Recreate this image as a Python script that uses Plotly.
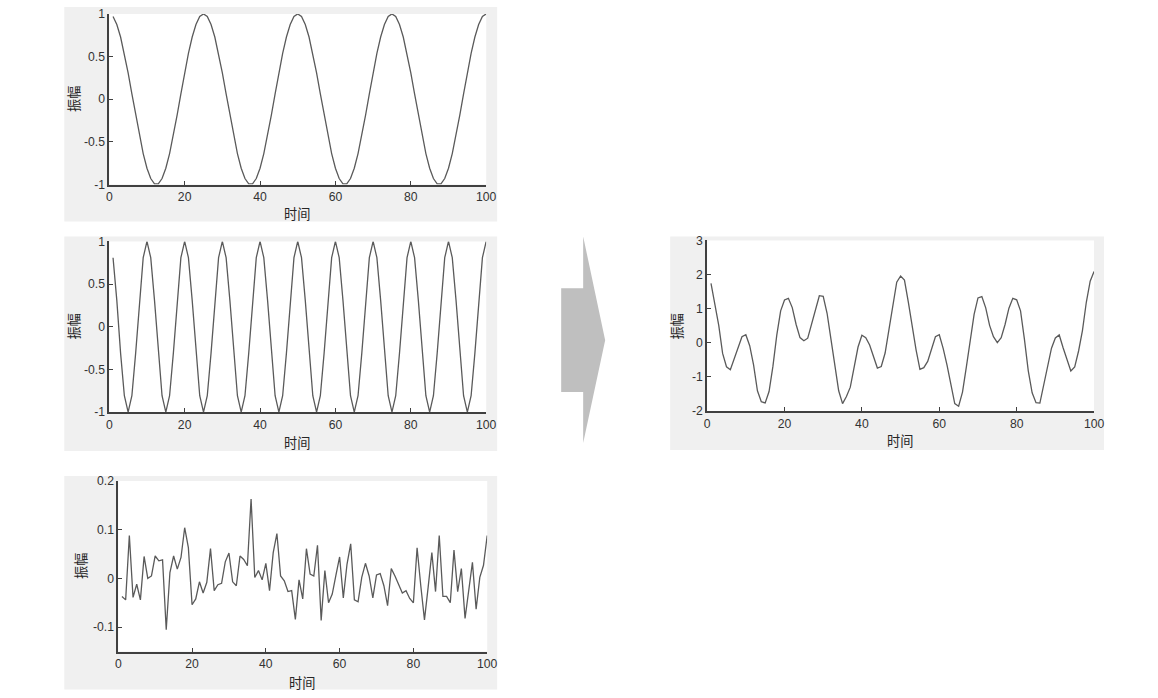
import plotly.graph_objects as go

# ---------------- data ----------------
t = list(range(1, 101))

sig_low = [0.969, 0.876, 0.729, 0.536, 0.309, 0.063, -0.187, -0.426, -0.637, -0.809,
           -0.930, -0.992, -0.992, -0.930, -0.809, -0.637, -0.426, -0.187, 0.063, 0.309,
           0.536, 0.729, 0.876, 0.969, 1.000, 0.969, 0.876, 0.729, 0.536, 0.309,
           0.063, -0.187, -0.426, -0.637, -0.809, -0.930, -0.992, -0.992, -0.930, -0.809,
           -0.637, -0.426, -0.187, 0.063, 0.309, 0.536, 0.729, 0.876, 0.969, 1.000,
           0.969, 0.876, 0.729, 0.536, 0.309, 0.063, -0.187, -0.426, -0.637, -0.809,
           -0.930, -0.992, -0.992, -0.930, -0.809, -0.637, -0.426, -0.187, 0.063, 0.309,
           0.536, 0.729, 0.876, 0.969, 1.000, 0.969, 0.876, 0.729, 0.536, 0.309,
           0.063, -0.187, -0.426, -0.637, -0.809, -0.930, -0.992, -0.992, -0.930, -0.809,
           -0.637, -0.426, -0.187, 0.063, 0.309, 0.536, 0.729, 0.876, 0.969, 1.000]

sig_high = [0.809, 0.309, -0.309, -0.809, -1.000, -0.809, -0.309, 0.309, 0.809, 1.000,
            0.809, 0.309, -0.309, -0.809, -1.000, -0.809, -0.309, 0.309, 0.809, 1.000,
            0.809, 0.309, -0.309, -0.809, -1.000, -0.809, -0.309, 0.309, 0.809, 1.000,
            0.809, 0.309, -0.309, -0.809, -1.000, -0.809, -0.309, 0.309, 0.809, 1.000,
            0.809, 0.309, -0.309, -0.809, -1.000, -0.809, -0.309, 0.309, 0.809, 1.000,
            0.809, 0.309, -0.309, -0.809, -1.000, -0.809, -0.309, 0.309, 0.809, 1.000,
            0.809, 0.309, -0.309, -0.809, -1.000, -0.809, -0.309, 0.309, 0.809, 1.000,
            0.809, 0.309, -0.309, -0.809, -1.000, -0.809, -0.309, 0.309, 0.809, 1.000,
            0.809, 0.309, -0.309, -0.809, -1.000, -0.809, -0.309, 0.309, 0.809, 1.000,
            0.809, 0.309, -0.309, -0.809, -1.000, -0.809, -0.309, 0.309, 0.809, 1.000]

noise = [-0.037, -0.044, 0.088, -0.039, -0.012, -0.044, 0.045, 0.000, 0.005, 0.046,
         0.036, 0.038, -0.105, 0.012, 0.046, 0.019, 0.043, 0.104, 0.063, -0.054,
         -0.042, -0.007, -0.030, -0.008, 0.061, -0.025, -0.013, -0.010, 0.034, 0.052,
         -0.007, -0.015, 0.046, 0.039, 0.026, 0.163, 0.002, 0.016, -0.003, 0.031,
         -0.025, 0.053, 0.092, 0.005, -0.005, -0.027, -0.025, -0.084, -0.003, -0.042,
         0.061, 0.009, 0.005, 0.068, -0.086, 0.016, -0.050, -0.032, 0.007, 0.044,
         -0.040, 0.029, 0.071, -0.044, -0.048, 0.002, 0.031, 0.005, -0.040, 0.007,
         0.010, -0.015, -0.056, 0.020, 0.005, -0.012, -0.030, -0.025, -0.041, -0.050,
         0.063, -0.015, -0.085, -0.018, 0.053, -0.027, 0.088, -0.037, -0.037, -0.050,
         0.058, -0.027, 0.020, -0.082, -0.018, 0.033, -0.063, 0.002, 0.027, 0.088]

combined = [1.741, 1.141, 0.508, -0.312, -0.703, -0.790, -0.451, -0.117, 0.177, 0.237,
            -0.085, -0.645, -1.406, -1.727, -1.763, -1.427, -0.692, 0.226, 0.935, 1.255,
            1.303, 1.031, 0.537, 0.152, 0.061, 0.135, 0.554, 1.028, 1.379, 1.361,
            0.865, 0.107, -0.689, -1.407, -1.783, -1.576, -1.299, -0.667, -0.124, 0.222,
            0.147, -0.064, -0.404, -0.741, -0.696, -0.300, 0.395, 1.101, 1.775, 1.958,
            1.839, 1.194, 0.425, -0.205, -0.777, -0.730, -0.546, -0.149, 0.179, 0.235,
            -0.161, -0.654, -1.230, -1.783, -1.857, -1.444, -0.704, 0.127, 0.832, 1.316,
            1.355, 1.023, 0.511, 0.180, 0.005, 0.148, 0.537, 1.013, 1.304, 1.259,
            0.935, 0.107, -0.820, -1.464, -1.756, -1.766, -1.213, -0.720, -0.158, 0.141,
            0.230, -0.144, -0.476, -0.828, -0.709, -0.240, 0.357, 1.187, 1.805, 2.088]

x_ticks = [0, 20, 40, 60, 80, 100]
x_ticktext = ["0", "20", "40", "60", "80", "100"]
y1_ticks = [-1, -0.5, 0, 0.5, 1]
y1_ticktext = ["-1", "-0.5", "0", "0.5", "1"]
y3_ticks = [-0.1, 0, 0.1, 0.2]
y3_ticktext = ["-0.1", "0", "0.1", "0.2"]
y4_ticks = [-2, -1, 0, 1, 2, 3]
y4_ticktext = ["-2", "-1", "0", "1", "2", "3"]

x_label = "时间"
y_label = "振幅"

# ---------------- layout helpers ----------------
W, H = 1158, 698
SX, BX, SY, BY = 0.989, 2.7, 0.982, 6.1
def px(x):
    return min(1.0, max(0.0, ((x - BX) / SX) / W))
def py(y):
    return min(1.0, max(0.0, 1 - ((y - BY) / SY) / H))

LINE = "#5a5a5a"
AXC = "#404040"
TICKFONT = dict(family="Liberation Sans, Arial, sans-serif", size=12.2, color="#333333")
CJKFONT = dict(family="Noto Sans CJK SC, sans-serif", size=13.2, color="#262626")

panels = [
    dict(plot=(109, 486, 13, 184), gray=(64, 497, 6, 221), yr=[-1, 1],
         yt=(y1_ticks, y1_ticktext), y=sig_low, ylab=(73, 98), xlab=(297, 213)),
    dict(plot=(109, 486, 241, 412), gray=(64, 497, 236, 451), yr=[-1, 1],
         yt=(y1_ticks, y1_ticktext), y=sig_high, ylab=(73, 326), xlab=(297, 443)),
    dict(plot=(118, 487, 481, 652), gray=(64, 497, 476, 690), yr=[-0.15, 0.2],
         yt=(y3_ticks, y3_ticktext), y=noise, ylab=(80, 566), xlab=(302, 683)),
    dict(plot=(707, 1094, 240, 411), gray=(670, 1104, 236, 450), yr=[-2, 3],
         yt=(y4_ticks, y4_ticktext), y=combined, ylab=(676, 326), xlab=(900, 441)),
]

fig = go.Figure()
shapes = []
annotations = []
layout_axes = {}

for i, p in enumerate(panels, start=1):
    sfx = "" if i == 1 else str(i)
    l, r, tp, b = p["plot"]
    gl, gr, gt, gb = p["gray"]
    fig.add_trace(go.Scatter(x=t, y=p["y"], mode="lines",
                             line=dict(color=LINE, width=1.3),
                             xaxis="x" + sfx, yaxis="y" + sfx,
                             showlegend=False, hoverinfo="skip"))
    shapes.append(dict(type="rect", xref="paper", yref="paper", layer="below",
                       x0=px(gl), x1=px(gr), y0=py(gb), y1=py(gt),
                       fillcolor="#f0f0f0", line=dict(width=0)))
    shapes.append(dict(type="rect", xref="paper", yref="paper", layer="below",
                       x0=px(l), x1=px(r), y0=py(b), y1=py(tp),
                       fillcolor="#ffffff", line=dict(width=0)))
    layout_axes["xaxis" + sfx] = dict(
        domain=[px(l), px(r)], range=[0, 100], anchor="y" + sfx,
        tickmode="array", tickvals=x_ticks, ticktext=x_ticktext,
        ticks="inside", ticklen=4, tickwidth=1, tickcolor=AXC,
        showline=True, linecolor=AXC, linewidth=1.7, showgrid=False,
        zeroline=False, tickfont=TICKFONT, fixedrange=True)
    layout_axes["yaxis" + sfx] = dict(
        domain=[py(b), py(tp)], range=p["yr"], anchor="x" + sfx,
        tickmode="array", tickvals=p["yt"][0], ticktext=p["yt"][1],
        ticks="inside", ticklen=4, tickwidth=1, tickcolor=AXC,
        showline=True, linecolor=AXC, linewidth=1.7, showgrid=False,
        zeroline=False, tickfont=TICKFONT, fixedrange=True)
    annotations.append(dict(text=y_label, xref="paper", yref="paper",
                            x=px(p["ylab"][0]), y=py(p["ylab"][1]),
                            xanchor="center", yanchor="middle", textangle=-90,
                            showarrow=False, font=CJKFONT))
    annotations.append(dict(text=x_label, xref="paper", yref="paper",
                            x=px(p["xlab"][0]), y=py(p["xlab"][1]),
                            xanchor="center", yanchor="middle",
                            showarrow=False, font=CJKFONT))

# arrow between the inputs and the result
arrow_pts = [(561, 288), (583, 288), (583, 236), (605, 340), (583, 443), (583, 392), (561, 392)]
path = "M " + " L ".join(f"{px(x):.5f},{py(y):.5f}" for x, y in arrow_pts) + " Z"
shapes.append(dict(type="path", xref="paper", yref="paper", path=path, layer="below",
                   fillcolor="#bfbfbf", line=dict(width=0)))

fig.update_layout(
    width=W, height=H, autosize=False,
    margin=dict(l=0, r=0, t=0, b=0),
    paper_bgcolor="#ffffff", plot_bgcolor="rgba(0,0,0,0)",
    shapes=shapes, annotations=annotations, showlegend=False,
    **layout_axes,
)

fig.write_html("out.html", config={"displayModeBar": False},
               post_script="document.body.style.margin='0';document.documentElement.style.overflow='hidden';")
